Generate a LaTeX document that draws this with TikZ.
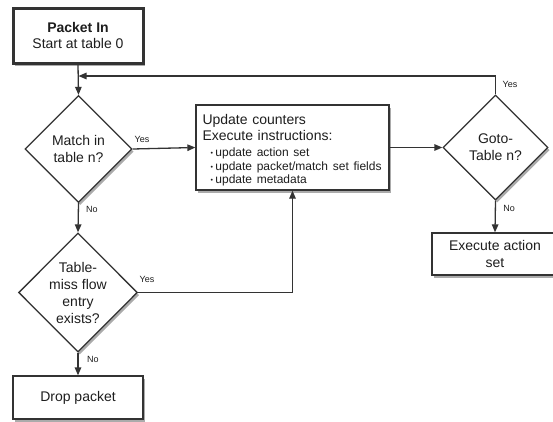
\documentclass[tikz,border=0pt]{standalone}
\usepackage{fontspec}
\setmainfont{Liberation Sans}
\usetikzlibrary{arrows.meta,shapes.geometric,shadows}
\definecolor{linec}{HTML}{333333}
\definecolor{textc}{HTML}{1E1E1E}
\newcommand{\bul}[1]{\hspace*{8pt}{\fontsize{12}{13.5}\selectfont{\scriptsize\raisebox{1.2pt}{•}}\hspace{2.5pt}#1}}
\tikzset{
  shd/.style={drop shadow={shadow xshift=1.8pt,shadow yshift=-2.6pt,fill=black!60,opacity=0.55}},
  boxst/.style={draw=linec,line width=1.3pt,fill=white,shd,rectangle,inner sep=2pt,align=center,
    font=\fontsize{14}{16.5}\selectfont,text=textc},
  decst/.style={draw=linec,line width=1.3pt,fill=white,shd,diamond,inner sep=0pt,align=center,
    font=\fontsize{14}{17}\selectfont,text=textc},
  conn/.style={draw=linec,line width=1.3pt,-{Triangle[length=8pt,width=6.5pt]}},
  lbl/.style={font=\fontsize{9}{10}\selectfont,text=textc,inner sep=0pt}
}
\begin{document}
\begin{tikzpicture}[x=1pt,y=-1pt]
\path[use as bounding box,fill=white] (0,0) rectangle (553,421);
% nodes
\node[boxst,line width=3pt,minimum width=130pt,minimum height=55pt] (start) at (78,35.5)
  {\textbf{Packet In}\\Start at table 0};
\node[decst,minimum width=107pt,minimum height=107pt] (match) at (78.5,149) {Match in\\table n?};
\node[boxst,minimum width=193pt,minimum height=85pt,text width=180pt,align=left,inner xsep=6.5pt,
  font=\fontsize{14}{16}\selectfont] (update) at (292.5,147.5)
  {\rule{0pt}{16pt}Update counters\\Execute instructions:\\
   \bul{update action set}\\[-2.5pt]
   \bul{update packet/match set fields}\\[-2.5pt]
   \bul{update metadata}};
\node[decst,minimum width=105pt,minimum height=105pt] (goto) at (495.5,147.5) {Goto-\\Table n?};
\node[boxst,minimum width=126pt,minimum height=42pt] (exec) at (495,254) {Execute action\\set};
\node[decst,minimum width=118pt,minimum height=119pt] (miss) at (78,292.5) {Table-\\miss flow\\entry\\exists?};
\node[boxst,minimum width=130pt,minimum height=43pt] (drop) at (78,397.5) {Drop packet};
\coordinate (join) at (78.5,76);
% connectors
\draw[conn] (start.south) -- (match.north);
\draw[conn] (goto.north) |- (join);
\draw[conn] (match.east) -- (update.west);
\draw[conn] (match.south) -- (miss.north);
\draw[conn] (miss.east) -| (update.south);
\draw[conn] (miss.south) -- (drop.north);
\draw[conn] (update.east) -- (goto.west);
\draw[conn] (goto.south) -- (exec.north);
% labels
\node[lbl] (l1) at (142,139) {Yes};
\node[lbl] (l2) at (92,209) {No};
\node[lbl] (l3) at (147,279) {Yes};
\node[lbl] (l4) at (93,359) {No};
\node[lbl] (l5) at (510,84.5) {Yes};
\node[lbl] (l6) at (509,208) {No};
\end{tikzpicture}
\end{document}
